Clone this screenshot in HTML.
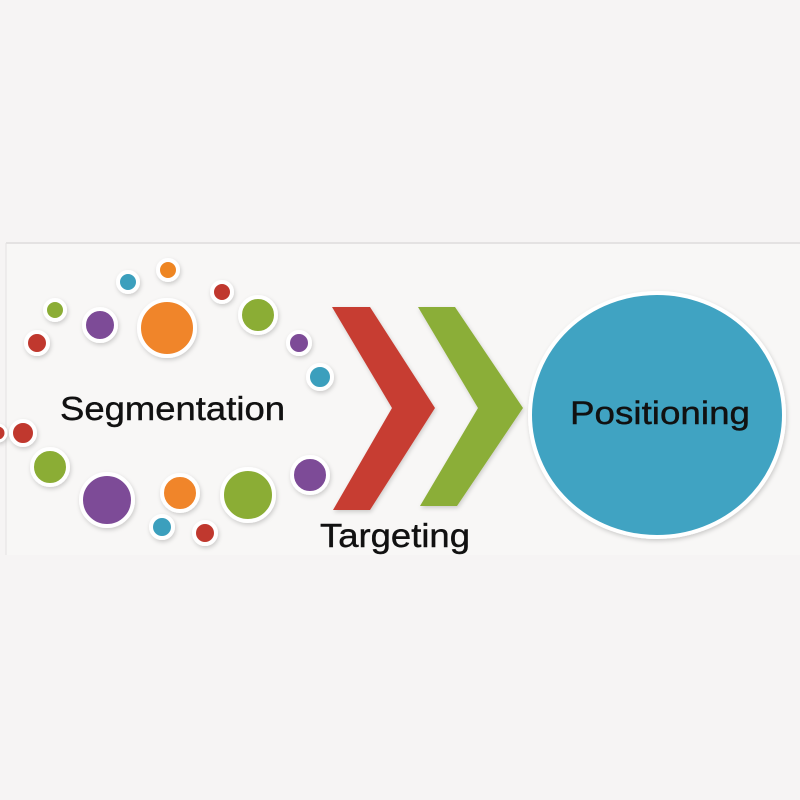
<!DOCTYPE html>
<html><head><meta charset="utf-8"><style>
html,body{margin:0;padding:0;background:#f6f4f4;}
svg{display:block;}
text{font-family:"Liberation Sans",sans-serif;fill:#111;}
</style></head><body>
<svg width="800" height="800" viewBox="0 0 800 800" xmlns="http://www.w3.org/2000/svg">
<defs>
<filter id="sh" x="-30%" y="-30%" width="160%" height="160%"><feDropShadow dx="1" dy="2" stdDeviation="2" flood-color="#000" flood-opacity="0.18"/></filter>
</defs>
<rect width="800" height="800" fill="#f6f4f4"/>
<rect x="6" y="243" width="794" height="312" fill="#f8f7f6"/>
<line x1="6" y1="243" x2="800" y2="243" stroke="#e4e2e2" stroke-width="2"/>
<line x1="6" y1="243" x2="6" y2="555" stroke="#e4e2e2" stroke-width="1"/>
<g filter="url(#sh)">
<g stroke="#fff">
<circle cx="168" cy="270" r="10" fill="#ee8524" stroke-width="4"/>
<circle cx="128" cy="282" r="10" fill="#3a9fbd" stroke-width="4"/>
<circle cx="222" cy="292" r="10" fill="#c0392f" stroke-width="4"/>
<circle cx="55" cy="310" r="10" fill="#8bad36" stroke-width="4"/>
<circle cx="100" cy="325" r="16" fill="#7d4b97" stroke-width="4"/>
<circle cx="167" cy="328" r="28" fill="#f0852a" stroke-width="4"/>
<circle cx="258" cy="315" r="18" fill="#8bad36" stroke-width="4"/>
<circle cx="37" cy="343" r="11" fill="#c0392f" stroke-width="4"/>
<circle cx="299" cy="343" r="11" fill="#7d4b97" stroke-width="4"/>
<circle cx="320" cy="377" r="12" fill="#3a9fbd" stroke-width="4"/>
<circle cx="23" cy="433" r="12" fill="#c0392f" stroke-width="4"/>
<circle cx="-2" cy="433" r="8" fill="#c0392f" stroke-width="3"/>
<circle cx="50" cy="467" r="18" fill="#8bad36" stroke-width="4"/>
<circle cx="107" cy="500" r="26" fill="#7d4b97" stroke-width="4"/>
<circle cx="180" cy="493" r="18" fill="#f0852a" stroke-width="4"/>
<circle cx="248" cy="495" r="26" fill="#8bad36" stroke-width="4"/>
<circle cx="310" cy="475" r="18" fill="#7d4b97" stroke-width="4"/>
<circle cx="162" cy="527" r="11" fill="#3a9fbd" stroke-width="4"/>
<circle cx="205" cy="533" r="11" fill="#c0392f" stroke-width="4"/>
</g>
<polygon points="332,307 370,307 435,408 370,510 333,510 392,408" fill="#c73d32"/>
<polygon points="418,307 455,307 523,408 457,506 420,506 478,408" fill="#8bae37"/>
<ellipse cx="657" cy="415" rx="127" ry="122" fill="#3fa3c2" stroke="#fff" stroke-width="4"/>
</g>
<text x="60" y="420" font-size="33" textLength="225" lengthAdjust="spacingAndGlyphs" stroke="#111" stroke-width="0.4">Segmentation</text>
<text x="320" y="547" font-size="33" textLength="150" lengthAdjust="spacingAndGlyphs" stroke="#111" stroke-width="0.4">Targeting</text>
<text x="570" y="424" font-size="32" textLength="180" lengthAdjust="spacingAndGlyphs" stroke="#111" stroke-width="0.4">Positioning</text>
</svg>
</body></html>
